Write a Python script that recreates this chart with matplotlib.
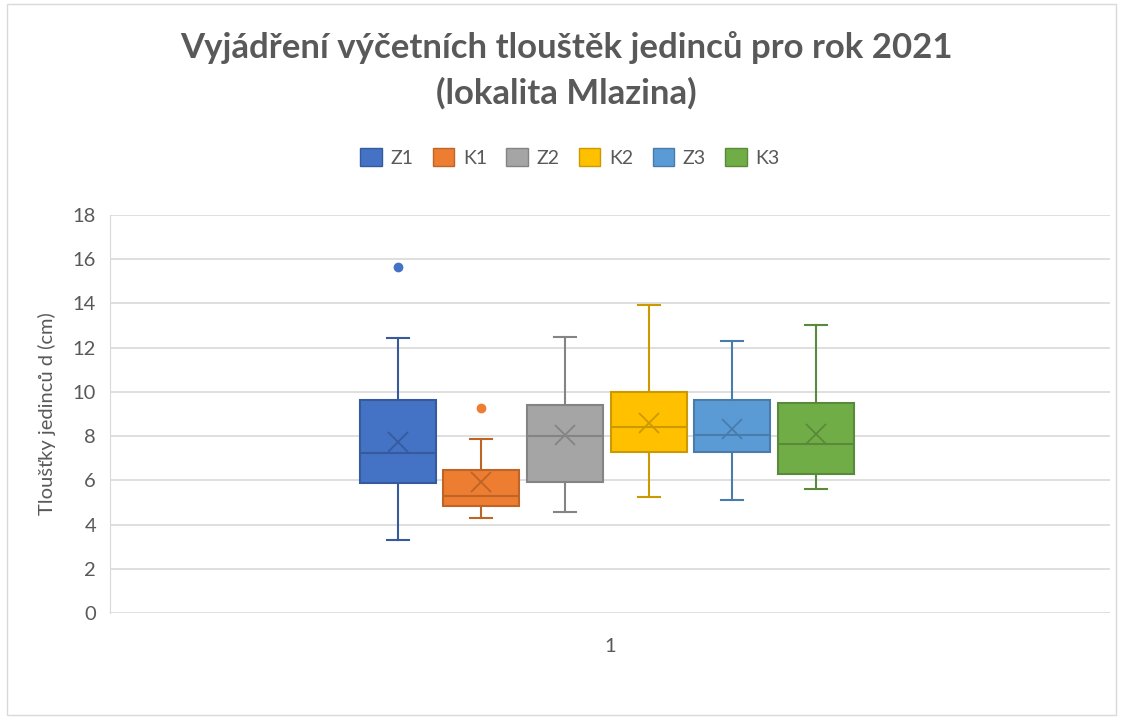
import matplotlib.pyplot as plt
import matplotlib.colors as mcolors
from matplotlib.patches import Rectangle

plt.rcParams['font.family'] = ['Lato', 'DejaVu Sans']

# values (cm)
series = ['Z1', 'K1', 'Z2', 'K2', 'Z3', 'K3']
whislo = [3.3, 4.3, 4.56, 5.25, 5.1, 5.6]
q1 = [5.9, 4.86, 5.91, 7.3, 7.3, 6.29]
med = [7.25, 5.31, 8.02, 8.43, 8.04, 7.63]
mean = [7.75, 5.91, 8.05, 8.58, 8.31, 8.09]
q3 = [9.64, 6.47, 9.41, 10.01, 9.64, 9.52]
whishi = [12.46, 7.86, 12.5, 13.92, 12.31, 13.02]
outliers = [[15.65], [9.26], [], [], [], []]
colors = ['#4472C4', '#ED7D31', '#A5A5A5', '#FFC000', '#5B9BD5', '#70AD47']

def darker(c, f=0.8):
    r, g, b = mcolors.to_rgb(c)
    return (r * f, g * f, b * f)

fig = plt.figure(figsize=(11.22, 7.18), dpi=100)
ax = fig.add_axes([0.098, 0.146, 0.891, 0.5546])

step = 0.0836
pos0 = 0.997 - 2.5 * step
for i, name in enumerate(series):
    st = [dict(label=name, whislo=whislo[i], q1=q1[i], med=med[i], mean=mean[i],
               q3=q3[i], whishi=whishi[i], fliers=outliers[i])]
    dc = darker(colors[i])
    ax.bxp(st, positions=[pos0 + i * step], widths=0.076, patch_artist=True,
           showmeans=True,
           boxprops=dict(facecolor=colors[i], edgecolor=dc, linewidth=1.5),
           medianprops=dict(color=dc, linewidth=1.5),
           whiskerprops=dict(color=dc, linewidth=1.5),
           capprops=dict(color=dc, linewidth=1.5),
           capwidths=0.022,
           meanprops=dict(marker='x', markeredgecolor=dc, markersize=14, markeredgewidth=1.3),
           flierprops=dict(marker='o', markerfacecolor=colors[i], markeredgecolor=colors[i], markersize=6))
    ax.bar(0, 0, color=colors[i], edgecolor=dc, label=name)

ax.set_xlim(0.5, 1.5)
ax.set_ylim(0, 18)
ax.set_yticks(range(0, 19, 2))
ax.set_xticks([1])
ax.set_xticklabels(['1'])
ax.yaxis.grid(True, color='#D9D9D9', linewidth=1.2)
ax.set_axisbelow(True)
for s in ['top', 'right', 'bottom']:
    ax.spines[s].set_visible(False)
ax.spines['left'].set_color('#D9D9D9')
ax.tick_params(length=0, labelsize=14.5, labelcolor='#595959', pad=10)
ax.tick_params(axis='x', pad=18)
ax.set_ylabel('Tloušťky jedinců d (cm)', fontsize=14.5, color='#595959', labelpad=12)

fig.suptitle('Vyjádření výčetních tlouštěk jedinců pro rok 2021\n(lokalita Mlazina)',
             x=0.505, y=0.957, fontsize=25, fontweight='bold', color='#595959', linespacing=1.5)

fig.legend(loc='center', bbox_to_anchor=(0.508, 0.781), ncol=6, frameon=False,
           fontsize=14, labelcolor='#595959', handlelength=1.1, handleheight=1.1,
           columnspacing=1.0, handletextpad=0.45)

fig.patches.append(Rectangle((0.006, 0.004), 0.989, 0.99, transform=fig.transFigure,
                             fill=False, edgecolor='#D9D9D9', linewidth=1))

fig.savefig('out.png', dpi=100)
